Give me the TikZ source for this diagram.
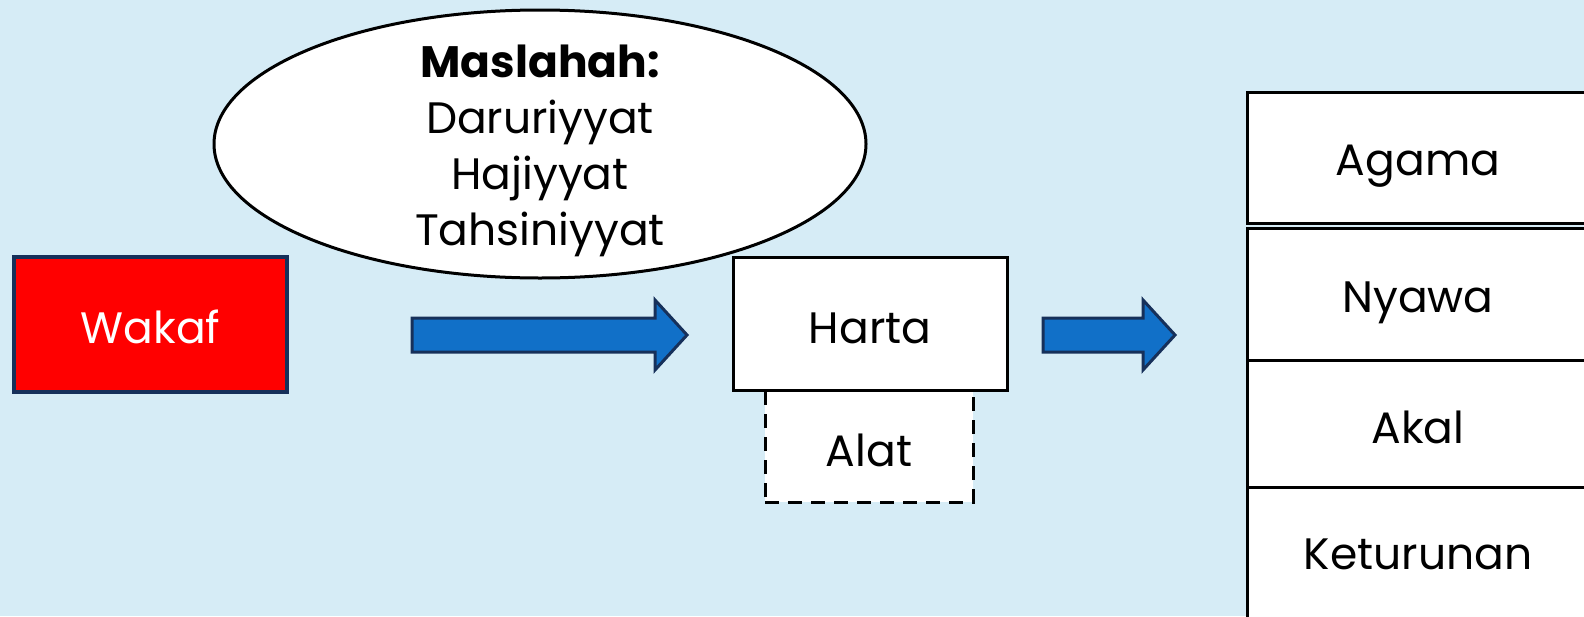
\documentclass[tikz,border=0pt]{standalone}
\usepackage{fontspec}
\setmainfont{Poppins}
\usetikzlibrary{shapes.geometric,shapes.arrows}
\definecolor{bg}{RGB}{214,236,246}
\definecolor{navy}{RGB}{22,48,90}
\definecolor{arrowblue}{RGB}{17,112,200}
\tikzset{
  txt/.style={font=\fontsize{44}{54}\selectfont, inner sep=0pt, anchor=base},
  whitebox/.style={draw=black, line width=3pt, fill=white, inner sep=0pt},
  bigarrow/.style={draw=navy, fill=arrowblue, line width=3pt, line join=miter}
}
\begin{document}
\begin{tikzpicture}[x=1pt,y=-1pt]
\fill[bg] (0,0) rectangle (1584,616);
\useasboundingbox (0,0) rectangle (1584,616);
% Wakaf
\node[draw=navy, fill=red, line width=3.5pt, minimum width=273pt, minimum height=135pt, inner sep=0pt] (wakaf) at (150.5,324.5) {};
\node[txt, text=white] (wakaftext) at (150.5,343) {Wakaf};
% Maslahah ellipse
\node[ellipse, draw=black, line width=3pt, fill=white, minimum width=652pt, minimum height=268pt, inner sep=0pt] (ellipse) at (540,144) {};
\node[txt, font=\fontsize{44}{54}\bfseries\selectfont] (m1) at (540,77) {Maslahah:};
\node[txt] (m2) at (540,133) {Daruriyyat};
\node[txt] (m3) at (540,189) {Hajiyyat};
\node[txt] (m4) at (540,245) {Tahsiniyyat};
% Harta and Alat
\node[draw=black, dashed, dash pattern=on 14pt off 9pt, line width=3pt, fill=white, minimum width=208pt, minimum height=112pt, inner sep=0pt] (alat) at (869,446) {};
\node[whitebox, minimum width=274pt, minimum height=133pt] (harta) at (870,324) {};
\node[txt] (hartatext) at (870,343) {Harta};
\node[txt] (alattext) at (869,466) {Alat};
% arrows
\draw[bigarrow] (412,318) -- (655,318) -- (655,300) -- (687,335) -- (655,370) -- (655,352) -- (412,352) -- cycle;
\draw[bigarrow] (1043,318) -- (1143,318) -- (1143,300) -- (1175,335) -- (1143,370) -- (1143,352) -- (1043,352) -- cycle;
% right column
\node[whitebox, anchor=north west, minimum width=360pt, minimum height=131pt] (agama) at (1246,91) {};
\node[whitebox, anchor=north west, minimum width=360pt, minimum height=132pt] (nyawa) at (1246,227) {};
\node[whitebox, anchor=north west, minimum width=360pt, minimum height=127pt] (akal) at (1246,359) {};
\node[whitebox, anchor=north west, minimum width=360pt, minimum height=160pt] (keturunan) at (1246,486) {};
\node[txt] (agamatext) at (1418,175) {Agama};
\node[txt] (nyawatext) at (1418,312) {Nyawa};
\node[txt] (akaltext) at (1418,443) {Akal};
\node[txt] (keturunantext) at (1418,569) {Keturunan};
\end{tikzpicture}
\end{document}
